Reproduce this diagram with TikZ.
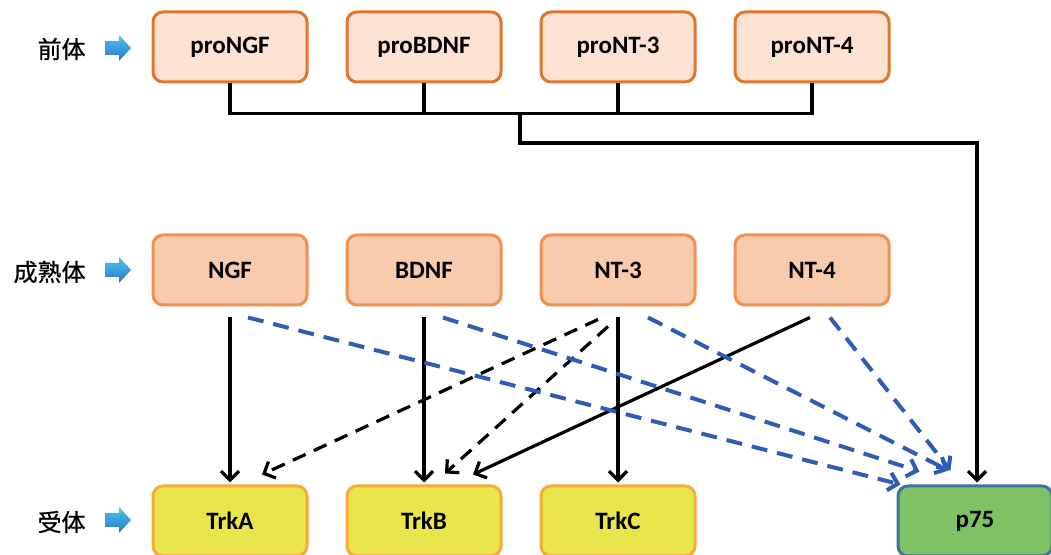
\documentclass[tikz,border=0pt]{standalone}
\usepackage{fontspec}
\setmainfont{Carlito}
\newfontfamily\cjk[FakeBold=0.8]{Noto Sans CJK SC}
\usepackage{tikz}
\usetikzlibrary{positioning,calc,arrows.meta}

\definecolor{profill}{HTML}{FBE2D3}
\definecolor{proline}{HTML}{E0772F}
\definecolor{matfill}{HTML}{F8CBAD}
\definecolor{matline}{HTML}{F2914F}
\definecolor{recfill}{HTML}{E9E54C}
\definecolor{recline}{HTML}{F5AC38}
\definecolor{pfill}{HTML}{7EC265}
\definecolor{pline}{HTML}{41719C}
\definecolor{dashblue}{HTML}{2F5DB5}
\definecolor{hinttop}{HTML}{4CC6EC}
\definecolor{hintbot}{HTML}{2878C4}

% block arrow in front of a row label
\newcommand\hintarrow[1]{\path[hint] (#1) ++(-13,-7) -- ++(14,0) -- ++(0,-6)
  -- ++(12,13) -- ++(-12,13) -- ++(0,-6) -- ++(-14,0) -- cycle;}

\begin{document}
\begin{tikzpicture}[x=0.5pt,y=-0.5pt,node distance=97pt,on grid,
    >={Straight Barb[length=4.5pt,width=9pt]},
    box/.style={rectangle,rounded corners=5pt,line width=1.5pt,
      minimum width=77pt,minimum height=35pt,font=\fontsize{12.5}{15}\selectfont\bfseries},
    pro/.style={box,draw=proline,fill=profill},
    mature/.style={box,draw=matline,fill=matfill},
    rec/.style={box,draw=recline,fill=recfill},
    pbox/.style={box,draw=pline,fill=pfill},
    link/.style={line width=1.6pt},
    klink/.style={line width=1.6pt,dash pattern=on 7pt off 4.5pt},
    blink/.style={line width=2pt,draw=dashblue,dash pattern=on 8pt off 5pt},
    tag/.style={font=\fontsize{12}{14}\cjk,anchor=east,inner sep=0pt},
    hint/.style={top color=hinttop,bottom color=hintbot}]
  \useasboundingbox (0,0) rectangle (1051,555);

  % precursors
  \node[pro] (proNGF) at (230,47) {proNGF};
  \node[pro] (proBDNF) [right=of proNGF] {proBDNF};
  \node[pro] (proNT3) [right=of proBDNF] {proNT-3};
  \node[pro] (proNT4) [right=of proNT3] {proNT-4};

  % mature forms
  \node[mature] (NGF) [below=111.5pt of proNGF] {NGF};
  \node[mature] (BDNF) [right=of NGF] {BDNF};
  \node[mature] (NT3) [right=of BDNF] {NT-3};
  \node[mature] (NT4) [right=of NT3] {NT-4};

  % receptors
  \node[rec] (TrkA) [below=125.5pt of NGF] {TrkA};
  \node[rec] (TrkB) [right=of TrkA] {TrkB};
  \node[rec] (TrkC) [right=of TrkB] {TrkC};
  \node[pbox] (p75) [right=178.5pt of TrkC] {p75};

  % row labels
  \node[tag] (lpre) at (86,49) {前体};
  \node[tag] (lmat) at (86,272) {成熟体};
  \node[tag] (lrec) at (86,522) {受体};
  \coordinate (hpre) at (118,48);
  \coordinate (hmat) at (118,270);
  \coordinate (hrec) at (118,520);
  \hintarrow{hpre}
  \hintarrow{hmat}
  \hintarrow{hrec}

  % precursor bus
  \draw[link] (proNGF.south) -- ++(0,30) coordinate (busL) -| (proNT4.south);
  \draw[link] (proBDNF.south) -- (proBDNF.south |- busL);
  \draw[link] (proNT3.south) -- (proNT3.south |- busL);
  \coordinate (busM) at (520,113);
  \draw[link,->,shorten >=1pt] (busM) -- ++(0,30) -| (p75.north -| 977,0);

  % mature -> receptors
  \draw[link,->,shorten >=1pt] ($(NGF.south)+(0,11)$) -- (TrkA.north);
  \draw[link,->,shorten >=1pt] ($(BDNF.south)+(0,11)$) -- (TrkB.north);
  \draw[link,->,shorten >=1pt] ($(NT3.south)+(0,11)$) -- (TrkC.north);
  \draw[link,->] ($(NT4.south)+(-2,11)$) -- ($(TrkB.north)+(49,-10)$);
  \draw[klink,->] ($(NT3.south)+(-20,13)$) -- ($(TrkA.north)+(32,-10)$);
  \draw[klink,->] ($(NT3.south)+(-10,20)$) -- ($(TrkB.north)+(21,-11)$);

  % mature -> p75
  \draw[blink,->] ($(NGF.south)+(18,11)$) -- ($(p75.north west)+(4,0)$);
  \draw[blink,->] ($(BDNF.south)+(19,11)$) -- ($(p75.north west)+(23,-13)$);
  \draw[blink,->] ($(NT3.south)+(30,11)$) -- ($(p75.north west)+(52,-14)$);
  \draw[blink,->] ($(NT4.south)+(18,11)$) -- ($(p75.north west)+(54,-14)$);
\end{tikzpicture}
\end{document}
